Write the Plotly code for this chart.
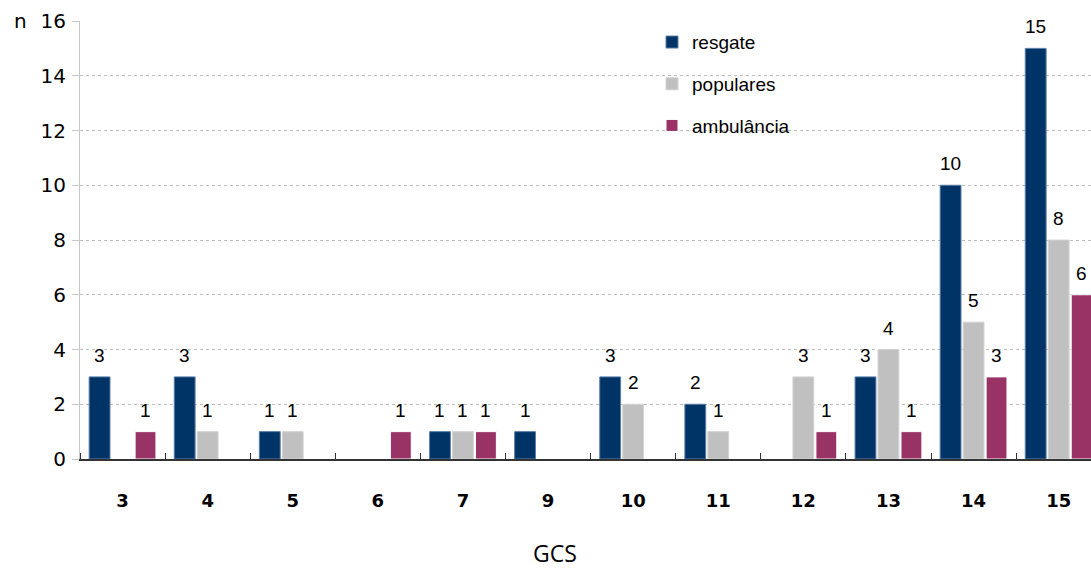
import plotly.graph_objects as go

# GCS score categories and counts per transport type
gcs = ["3", "4", "5", "6", "7", "9", "10", "11", "12", "13", "14", "15"]
resgate = [3, 3, 1, 0, 1, 1, 3, 2, 0, 3, 10, 15]
populares = [0, 1, 1, 0, 1, 0, 2, 1, 3, 4, 5, 8]
ambulancia = [1, 0, 0, 1, 1, 0, 0, 0, 1, 1, 3, 6]

series = [
    ("resgate", resgate, "#003366", "#5b7fa8", -0.27),
    ("populares", populares, "#c0c0c0", "#d4d4d4", 0.0),
    ("ambulância", ambulancia, "#993366", "#ffffff", 0.27),
]
bar_w = 0.245
idx = list(range(len(gcs)))

fig = go.Figure()
annotations = []
for k, (name, vals, color, edge, off) in enumerate(series):
    # zero counts are left empty so no outline is drawn
    shown = [v if v > 0 else None for v in vals]
    fig.add_trace(go.Bar(
        x=[i + off for i in idx], y=shown, width=bar_w, name=name,
        marker=dict(color=color, line=dict(color=edge, width=1)),
        legendgroup=name,
    ))
    for i, v in zip(idx, vals):
        if v > 0:
            annotations.append(dict(
                x=i + off, y=v, xref="x", yref="y", text=str(v),
                showarrow=False, yanchor="bottom", yshift=9,
                font=dict(family="Liberation Sans, Arial", size=19, color="#000"),
            ))

# axis caption and unit label
annotations.append(dict(
    x=(555 - 80) / 1011, y=-0.215, xref="paper", yref="paper", text="GCS",
    showarrow=False, yanchor="middle",
    font=dict(family="Open Sans", size=23, color="#000"),
))
annotations.append(dict(
    x=-68 / 1011, y=1.0, xref="paper", yref="paper", text="n",
    showarrow=False, xanchor="left", yanchor="middle",
    font=dict(family="DejaVu Sans", size=20, color="#000"),
))

fig.update_layout(
    width=1091, height=571,
    margin=dict(l=80, r=0, t=21, b=112),
    paper_bgcolor="white", plot_bgcolor="white",
    barmode="overlay",
    annotations=annotations,
    showlegend=True,
    legend=dict(
        x=(652 - 80) / 1011, y=0.995, xanchor="left", yanchor="top",
        font=dict(family="Liberation Sans, Arial", size=19, color="#000"),
        tracegroupgap=14, bgcolor="rgba(0,0,0,0)",
        itemwidth=30,
    ),
    xaxis=dict(
        range=[-0.5, 11.38],
        tickmode="array", tickvals=idx, ticktext=gcs,
        ticks="", showgrid=False, zeroline=False,
        showline=True, linecolor="#333333", linewidth=1.5,
        tickfont=dict(family="DejaVu Sans", size=18, color="#000", weight="bold"),
        ticklabelstandoff=25,
        minor=dict(ticks="inside", ticklen=6, tickcolor="#333333",
                   tickmode="linear", tick0=0.5, dtick=1, showgrid=False),
    ),
    yaxis=dict(
        range=[0, 16], tickmode="linear", tick0=0, dtick=2,
        showgrid=True, gridcolor="#bcbcbc", griddash="dot", gridwidth=1,
        zeroline=False,
        showline=True, linecolor="#c8c8c8", linewidth=1,
        ticks="outside", ticklen=7, tickcolor="#c8c8c8",
        tickfont=dict(family="DejaVu Sans", size=20, color="#000"),
        ticklabelstandoff=2,
    ),
)

fig.write_html("out.html")
